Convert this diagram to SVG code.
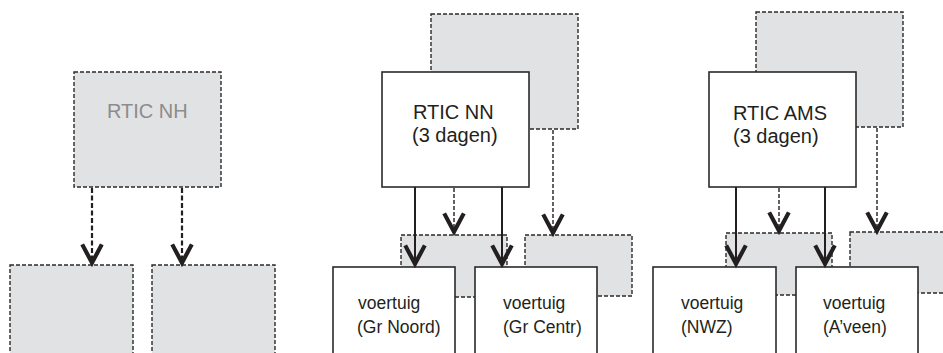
<svg xmlns="http://www.w3.org/2000/svg" width="943" height="353" viewBox="0 0 943 353">
<style>
.bg{fill:#fff}
.ghost{fill:#e1e2e4;stroke:#2a2a2a;stroke-width:1.4;stroke-dasharray:4 2}
.box{fill:#fff;stroke:#2a2a2a;stroke-width:1.6}
.t{font-family:"Liberation Sans",Arial,sans-serif;font-size:20px;fill:#231f20}
.tg{font-family:"Liberation Sans",Arial,sans-serif;font-size:20px;fill:#8c8c8c}
.s{font-family:"Liberation Sans",Arial,sans-serif;font-size:17.5px;fill:#231f20}
.solid{fill:none;stroke:#231f20;stroke-width:2}
.dash{fill:none;stroke:#231f20;stroke-width:1.4;stroke-dasharray:4 2}
.dashb{fill:none;stroke:#231f20;stroke-width:2.2;stroke-dasharray:5 2.5}
</style>
<defs>
<marker id="chev" markerUnits="userSpaceOnUse" markerWidth="30" markerHeight="30" viewBox="-22 -12 26 24" refX="0" refY="0" orient="auto">
<path d="M-17,-8.5 L-1,0 L-17,8.5" fill="none" stroke="#231f20" stroke-width="3.6" stroke-linejoin="miter" stroke-dasharray="none"/>
</marker>
</defs>
<rect class="bg" x="0" y="0" width="943" height="353"/>

<g id="nh"><rect class="ghost" x="74" y="72" width="147" height="115"/><text class="tg" x="107" y="118">RTIC NH</text></g>
<g id="nh-a"><rect class="ghost" x="10" y="265" width="123" height="100"/></g>
<g id="nh-b"><rect class="ghost" x="152" y="265" width="123" height="100"/></g>

<g id="nn-shadow"><rect class="ghost" x="431" y="14" width="147" height="115"/></g>
<g id="nn"><rect class="box" x="382" y="72" width="147" height="115"/><text class="t" x="413" y="119">RTIC NN</text><text class="t" x="412" y="142">(3 dagen)</text></g>
<g id="nn-sa"><rect class="ghost" x="401" y="235" width="106" height="62"/></g>
<g id="nn-sb"><rect class="ghost" x="525" y="235" width="107" height="61"/></g>
<g id="nn-a"><rect class="box" x="333" y="267" width="122" height="100"/><text class="s" x="358" y="309">voertuig</text><text class="s" x="357" y="333">(Gr Noord)</text></g>
<g id="nn-b"><rect class="box" x="475" y="267" width="122" height="100"/><text class="s" x="503" y="309">voertuig</text><text class="s" x="503" y="333">(Gr Centr)</text></g>

<g id="ams-shadow"><rect class="ghost" x="756" y="12" width="147" height="115"/></g>
<g id="ams"><rect class="box" x="709" y="72" width="147" height="115"/><text class="t" x="733" y="120">RTIC AMS</text><text class="t" x="733" y="143">(3 dagen)</text></g>
<g id="ams-sa"><rect class="ghost" x="726" y="233" width="106" height="62"/></g>
<g id="ams-sb"><rect class="ghost" x="850" y="232" width="106" height="61"/></g>
<g id="ams-a"><rect class="box" x="653" y="267" width="123" height="100"/><text class="s" x="681" y="309">voertuig</text><text class="s" x="681" y="333">(NWZ)</text></g>
<g id="ams-b"><rect class="box" x="796" y="267" width="122" height="100"/><text class="s" x="823" y="309">voertuig</text><text class="s" x="823" y="333">(A’veen)</text></g>

<g id="connectors">
<path class="dashb" d="M92,188 V264" marker-end="url(#chev)"/>
<path class="dashb" d="M182,188 V264" marker-end="url(#chev)"/>
<path class="solid" d="M415,187 V265" marker-end="url(#chev)"/>
<path class="solid" d="M502,187 V265" marker-end="url(#chev)"/>
<path class="dash" d="M454,188 V233" marker-end="url(#chev)"/>
<path class="dash" d="M553,130 V234" marker-end="url(#chev)"/>
<path class="solid" d="M736,187 V265" marker-end="url(#chev)"/>
<path class="solid" d="M825,187 V265" marker-end="url(#chev)"/>
<path class="dash" d="M779,188 V232" marker-end="url(#chev)"/>
<path class="dash" d="M877,128 V232" marker-end="url(#chev)"/>
</g>
</svg>
